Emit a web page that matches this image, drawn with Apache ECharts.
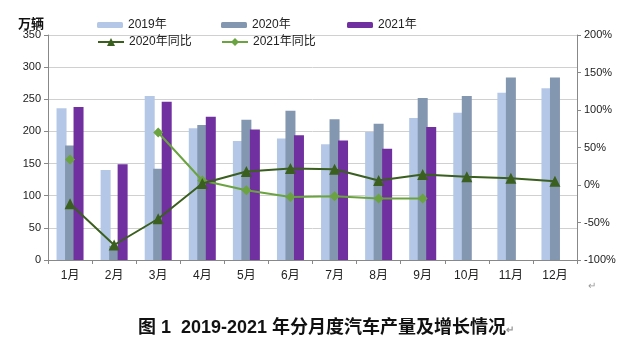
<!DOCTYPE html>
<html><head><meta charset="utf-8">
<script src="https://cdn.jsdelivr.net/npm/echarts@6/dist/echarts.min.js"></script>
<style>html,body{margin:0;padding:0;background:#fff}#c{width:640px;height:346px}</style>
</head><body><div id="c"></div>
<script>
var months = ['1月','2月','3月','4月','5月','6月','7月','8月','9月','10月','11月','12月'];
var prod2019 = [236, 140, 255, 205, 185, 189, 180, 199, 221, 229, 260, 267];
var prod2020 = [178, 22, 142, 210, 218, 232, 219, 212, 252, 255, 284, 284];
var prod2021 = [238, 149, 246, 223, 203, 194, 186, 173, 207, null, null, null];
var yoy2020 = [-25, -80, -45, 2, 18, 22, 21, 6, 14, 11, 9, 5];
var yoy2021 = [34, null, 70, 6, -7, -16, -15, -18, -18, null, null, null];
var leftTicks = {min: 0, max: 350, interval: 50};
var rightTicks = {min: -100, max: 200, interval: 50};

var FONT = '"Liberation Sans","Noto Sans CJK SC",sans-serif';
var c19 = '#b4c7e7', c20 = '#8497b0', c21 = '#7030a0', g20 = '#3a5f1e', g21 = '#6aa33f';
var chart = echarts.init(document.getElementById('c'));
function lg(name, left, top, h) {
  return {data: [name], left: left, top: top, itemWidth: 26, itemHeight: h, itemGap: 0, padding: 0,
    textStyle: {fontFamily: FONT, fontSize: 12, color: '#222'}};
}
chart.setOption({
  animation: false,
  textStyle: {fontFamily: FONT},
  grid: {left: 48, right: 63, top: 35, bottom: 86},
  legend: [
    lg('2019年', 97, 19, 6), lg('2020年', 221, 19, 6), lg('2021年', 347, 19, 6),
    lg('2020年同比', 97, 36, 10), lg('2021年同比', 221, 36, 10)
  ],
  title: {
    text: '{b|图 1  2019-2021 年分月度汽车产量及增长情况}{r|↵}',
    left: 133, top: 314,
    textStyle: {rich: {
      b: {fontFamily: FONT, fontSize: 18, fontWeight: 'bold', color: '#111'},
      r: {fontFamily: FONT, fontSize: 10, color: '#999', padding: [4, 0, 0, 0]}
    }}
  },
  graphic: [
    {type: 'text', left: 18, top: 17, style: {text: '万辆', font: 'bold 13px "Noto Sans CJK SC"', fill: '#111'}},
    {type: 'text', left: 588, top: 281, style: {text: '↵', font: '10px "Liberation Sans"', fill: '#999'}}
  ],
  xAxis: {
    type: 'category', data: months, boundaryGap: true,
    axisLine: {lineStyle: {color: '#888'}},
    axisTick: {show: true, alignWithLabel: false, length: 4, lineStyle: {color: '#888'}},
    axisLabel: {fontSize: 12, color: '#222', margin: 10, fontFamily: FONT}
  },
  yAxis: [
    {type: 'value', min: leftTicks.min, max: leftTicks.max, interval: leftTicks.interval,
      axisLine: {show: true, lineStyle: {color: '#888'}},
      axisTick: {show: true, length: 4, lineStyle: {color: '#888'}},
      axisLabel: {fontSize: 11, color: '#222', margin: 7, fontFamily: FONT},
      splitLine: {lineStyle: {color: '#d0d0d0'}}},
    {type: 'value', min: rightTicks.min, max: rightTicks.max, interval: rightTicks.interval,
      axisLine: {show: true, lineStyle: {color: '#888'}},
      axisTick: {show: true, length: 4, lineStyle: {color: '#888'}},
      axisLabel: {fontSize: 11, color: '#222', margin: 7, fontFamily: FONT, formatter: '{value}%'},
      splitLine: {show: false}}
  ],
  series: [
    {name: '2019年', type: 'bar', data: prod2019, barWidth: 10, barGap: '-15%', itemStyle: {color: c19}, z: 2},
    {name: '2020年', type: 'bar', data: prod2020, barWidth: 10, barGap: '-15%', itemStyle: {color: c20}, z: 2},
    {name: '2021年', type: 'bar', data: prod2021, barWidth: 10, barGap: '-15%', itemStyle: {color: c21}, z: 2},
    {name: '2020年同比', type: 'line', yAxisIndex: 1, data: yoy2020, symbol: 'triangle', symbolSize: 11,
      lineStyle: {color: g20, width: 2}, itemStyle: {color: g20}, z: 5},
    {name: '2021年同比', type: 'line', yAxisIndex: 1, data: yoy2021, symbol: 'diamond', symbolSize: 10,
      connectNulls: false, lineStyle: {color: g21, width: 2}, itemStyle: {color: g21}, z: 4}
  ]
});
</script></body></html>
